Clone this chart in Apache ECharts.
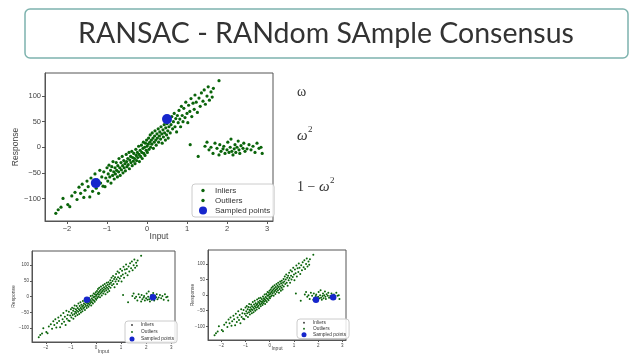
<!DOCTYPE html>
<html><head><meta charset="utf-8">
<script src="https://cdn.jsdelivr.net/npm/echarts@6/dist/echarts.min.js"></script>
<style>html,body{margin:0;padding:0;background:#fff}#c{width:640px;height:360px}</style>
</head><body><div id="c"></div>
<script>
const titleText = 'RANSAC - RANdom SAmple Consensus';
const xTicks = [-2, -1, 0, 1, 2, 3];
const yTicks = [-100, -50, 0, 50, 100];
const inliers = [
[-2.28,-129],[-2.22,-122],[-2.15,-117],[-2.1,-100],[-1.98,-112],[-1.93,-116],[-1.88,-95],[-1.8,-88],[-1.75,-102],[-1.7,-78],
[-1.66,-90],[-1.62,-72],[-1.58,-98],[-1.55,-84],[-1.5,-66],[-1.47,-77],[-1.43,-97],[-1.4,-60],[-1.36,-86],[-1.33,-72],
[-1.3,-52],[-1.27,-80],[-1.24,-64],[-1.21,-90],
[-1.18,-45],[-1.16,-70],[-1.13,-58],[-1.1,-76],[-1.08,-48],[-1.05,-77],[-1.03,-60],[-1.0,-40],[-0.98,-66],[-0.97,-52],
[-0.95,-35],[-0.93,-58],[-0.91,-45],[-0.9,-70],[-0.88,-38],[-0.86,-55],[-0.85,-28],[-0.83,-48],[-0.82,-62],[-0.8,-40],
[-0.79,-52],[-0.77,-30],[-0.76,-45],[-0.74,-58],[-0.73,-36],[-0.71,-48],[-0.7,-22],[-0.68,-40],[-0.67,-55],[-0.65,-30],
[-0.64,-44],[-0.62,-18],[-0.61,-36],[-0.6,-50],[-0.58,-26],[-0.57,-40],[-0.55,-32],[-0.54,-46],[-0.52,-14],[-0.51,-28],
[-0.5,-38],[-0.48,-22],[-0.47,-34],[-0.45,-10],[-0.44,-42],[-0.43,-25],[-0.41,-18],[-0.4,-30],[-0.38,-8],[-0.37,-36],
[-0.36,-20],[-0.34,-27],[-0.33,-12],[-0.31,-22],[-0.3,-32],[-0.28,-4],[-0.27,-16],[-0.26,-26],[-0.24,-10],[-0.23,-20],
[-0.21,2],[-0.2,-14],[-0.19,-28],[-0.17,-6],[-0.16,-18],[-0.14,4],[-0.13,-10],[-0.12,-22],[-0.1,-2],[-0.09,10],
[-0.08,-12],[-0.06,0],[-0.05,-16],[-0.04,8],[-0.02,-6],[-0.01,14],[0.0,2],[0.01,-10],[0.03,6],[0.04,18],
[0.05,-4],[0.07,10],[0.08,24],[0.09,0],[0.11,14],[0.12,6],[0.13,28],[0.15,18],[0.16,-2],[0.18,10],
[0.19,22],[0.2,32],[0.22,14],[0.23,4],[0.25,26],[0.26,18],[0.28,36],[0.29,10],[0.31,22],[0.32,30],
[0.34,16],[0.35,40],[0.37,26],[0.38,8],[0.4,34],[0.41,20],[0.43,44],[0.44,28],[0.46,14],[0.47,38],
[0.49,24],[0.5,46],[0.52,32],[0.53,18],[0.55,40],[0.57,52],[0.58,28],[0.6,44],
[0.62,60],[0.64,36],[0.66,50],[0.68,66],[0.7,40],[0.72,56],[0.74,30],[0.76,62],[0.78,48],[0.8,72],
[0.82,55],[0.84,40],[0.86,80],[0.88,62],[0.9,50],[0.92,76],[0.95,58],[0.97,88],[1.0,66],[1.02,48],
[1.04,82],[1.07,70],[1.1,95],[1.12,60],[1.15,86],[1.18,74],[1.2,102],[1.23,88],[1.26,68],[1.3,96],
[1.33,80],[1.36,106],[1.4,90],[1.43,112],[1.46,84],[1.5,100],[1.53,118],[1.56,92],[1.6,108],[1.63,98],
[1.66,115],[1.8,130]
];
const outliers = [
[1.08,5],[1.28,-18],[1.45,2],[1.5,10],[1.55,-5],[1.6,0],[1.65,-12],[1.7,8],[1.75,-2],[1.8,-15],
[1.82,5],[1.85,-8],[1.9,-3],[1.92,2],[1.95,-12],[2.0,-5],[2.02,10],[2.05,-10],[2.08,0],[2.1,16],
[2.12,-8],[2.15,-15],[2.18,-3],[2.2,5],[2.22,-10],[2.25,0],[2.28,12],[2.3,-5],[2.32,-12],[2.35,3],
[2.4,-2],[2.42,8],[2.45,-8],[2.5,-3],[2.55,5],[2.6,-5],[2.65,2],[2.7,-10],[2.75,8],[2.8,-2],
[2.85,0],[2.88,-12]
];
const sampledMain = [[-1.28,-70],[0.5,55]];
const sampledLeft = [[-0.36,-10],[2.27,-2]];
const sampledRight = [[1.91,-15],[2.62,-7]];
const legendNames = ['Inliers', 'Outliers', 'Sampled points'];

const GREEN = '#0a640a', BLUE = '#1626cc', FRAME = '#555';
const fmt = v => v < 0 ? '\u2212' + Math.abs(v) : String(v);
const FONT = 'Liberation Sans';

// small dot icon inside a box of w x h (degenerate corner points fix the bounding box)
const dotIcon = (w, h, r) => {
  const cx = w / 2, cy = h / 2;
  return 'path://M0,0L0,0M' + w + ',' + h + 'L' + w + ',' + h +
    'M' + (cx - r) + ',' + cy + 'A' + r + ',' + r + ',0,1,1,' + (cx + r) + ',' + cy +
    'A' + r + ',' + r + ',0,1,1,' + (cx - r) + ',' + cy + 'Z';
};

const panels = [
  {grid:{left:45,top:73,width:228,height:148}, fs:7.5, nfs:8.5, xGap:11, yGap:25, dot:3.2, big:10, sampled:sampledMain,
   legend:{left:192,top:184,fs:8,ih:8,iw:14,r:1.7,lh:9,gap:1,pad:[2,4]}},
  {grid:{left:32,top:251,width:143,height:91}, fs:4.5, nfs:5, xGap:7, yGap:16, dot:2, big:6.5, sampled:sampledLeft,
   legend:{left:125,top:321,fs:4.8,ih:5,iw:8,r:0.9,lh:6,gap:1,pad:[1,3]}},
  {grid:{left:208,top:250,width:138,height:90}, fs:4.5, nfs:5, xGap:6, yGap:13, dot:2, big:6.5, sampled:sampledRight,
   legend:{left:297,top:319,fs:4.8,ih:5,iw:8,r:0.9,lh:5.5,gap:0.5,pad:[1,3]}}
];

const option = {
  backgroundColor:'#fff', animation:false,
  grid:[], xAxis:[], yAxis:[], series:[], legend:[],
  graphic:[
    {type:'rect', shape:{x:25,y:9,width:603,height:49,r:5}, style:{fill:'#fff',stroke:'#7eb3ae',lineWidth:1.5}},
    {type:'text', x:326, y:34, style:{text:titleText, font:'28.5px Lato', fill:'#333', align:'center', verticalAlign:'middle'}},
    {type:'text', x:297, y:92, style:{text:'ω', font:'14px "Liberation Serif"', fill:'#333', verticalAlign:'middle'}},
    {type:'text', x:297, y:136, style:{text:'ω', font:'italic 15px "Liberation Serif"', fill:'#333', verticalAlign:'middle'}},
    {type:'text', x:308, y:130, style:{text:'2', font:'9px "Liberation Serif"', fill:'#333', verticalAlign:'middle'}},
    {type:'text', x:297, y:187, style:{text:'1 − ', font:'14px "Liberation Serif"', fill:'#333', verticalAlign:'middle'}},
    {type:'text', x:319, y:187, style:{text:'ω', font:'italic 15px "Liberation Serif"', fill:'#333', verticalAlign:'middle'}},
    {type:'text', x:330, y:181, style:{text:'2', font:'9px "Liberation Serif"', fill:'#333', verticalAlign:'middle'}}
  ]
};

panels.forEach((p, i) => {
  option.grid.push(Object.assign({show:true, borderColor:FRAME, borderWidth:1, backgroundColor:'#fff'}, p.grid));
  const common = (ticks) => ({
    gridIndex:i, splitLine:{show:false}, nameMoveOverlap:false,
    axisLine:{show:true, onZero:false, lineStyle:{color:FRAME}},
    axisTick:{show:true, length: p.fs > 6 ? 3 : 2, customValues:ticks, lineStyle:{color:FRAME}},
    axisLabel:{customValues:ticks, formatter:fmt, fontSize:p.fs, color:'#444', fontFamily:FONT, margin: p.fs > 6 ? 4 : 3},
    nameLocation:'middle', nameTextStyle:{fontSize:p.nfs, color:'#444', fontFamily:FONT}
  });
  option.xAxis.push(Object.assign(common(xTicks), {type:'value', min:-2.55, max:3.15, name:'Input', nameGap:p.xGap}));
  option.yAxis.push(Object.assign(common(yTicks), {type:'value', min:-144, max:145, name:'Response', nameGap:p.yGap}));
  option.series.push(
    {name:'Inliers', type:'scatter', xAxisIndex:i, yAxisIndex:i, data:inliers, symbolSize:p.dot, itemStyle:{color:GREEN, opacity:1}},
    {name:'Outliers', type:'scatter', xAxisIndex:i, yAxisIndex:i, data:outliers, symbolSize:p.dot, itemStyle:{color:GREEN, opacity:1}},
    {name:'Sampled points', type:'scatter', xAxisIndex:i, yAxisIndex:i, data:p.sampled, symbolSize:p.big, itemStyle:{color:BLUE, opacity:1}, z:5}
  );
  const L = p.legend;
  const icon = dotIcon(L.iw, L.ih, L.r);
  option.legend.push({
    left:L.left, top:L.top, orient:'vertical', itemGap:L.gap, itemWidth:L.iw, itemHeight:L.ih,
    padding:L.pad, backgroundColor:'rgba(255,255,255,0.85)', borderColor:'#ccc', borderWidth:1, borderRadius:3,
    textStyle:{fontSize:L.fs, color:'#333', fontFamily:FONT, lineHeight:L.lh},
    data:[
      {name:legendNames[0], icon:icon, itemStyle:{color: i === 0 ? GREEN : '#333', borderWidth:0}},
      {name:legendNames[1], icon:icon, itemStyle:{color:GREEN, borderWidth:0}},
      {name:legendNames[2], icon:'circle', itemStyle:{color:BLUE, borderWidth:0}}
    ]
  });
});

const chart = echarts.init(document.getElementById('c'), null, {renderer:'canvas'});
chart.setOption(option);
</script>
</body></html>
